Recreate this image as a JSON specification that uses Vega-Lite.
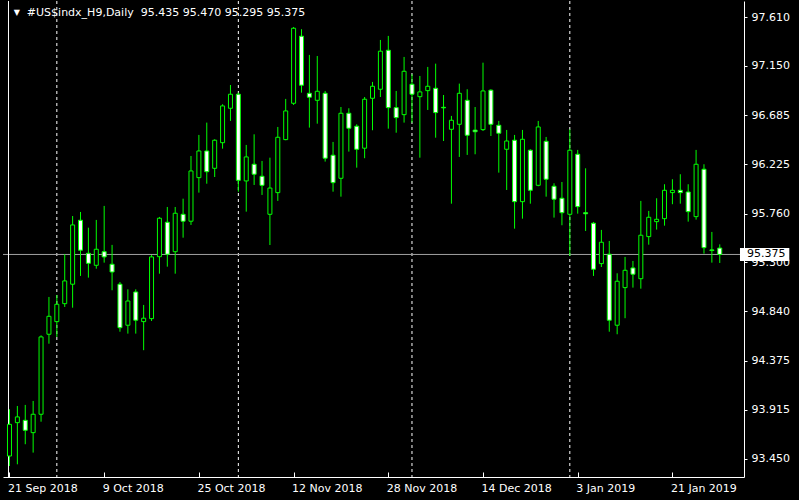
{
  "$schema": "https://vega.github.io/schema/vega-lite/v6.json",
  "width": 741,
  "height": 476,
  "padding": {"left": 2, "top": 0, "right": 9, "bottom": 7},
  "autosize": {"type": "pad"},
  "background": "black",
  "config": {"view": {"stroke": null}, "font": "DejaVu Sans", "text": {"font": "DejaVu Sans"}},
  "data": {"values": [{"note": "annotation row"}]},
  "datasets": {
    "candles": [
      {"i":0,"date":"2018-09-21","o":93.478,"h":93.918,"l":93.384,"c":93.776},
      {"i":1,"date":"2018-09-24","o":93.792,"h":93.949,"l":93.400,"c":93.846},
      {"i":2,"date":"2018-09-25","o":93.814,"h":93.959,"l":93.589,"c":93.720},
      {"i":3,"date":"2018-09-26","o":93.698,"h":93.996,"l":93.510,"c":93.871},
      {"i":4,"date":"2018-09-27","o":93.871,"h":94.614,"l":93.801,"c":94.599},
      {"i":5,"date":"2018-09-28","o":94.624,"h":94.975,"l":94.535,"c":94.793},
      {"i":6,"date":"2018-10-01","o":94.743,"h":94.994,"l":94.599,"c":94.906},
      {"i":7,"date":"2018-10-02","o":94.912,"h":95.377,"l":94.881,"c":95.126},
      {"i":8,"date":"2018-10-03","o":95.095,"h":95.737,"l":94.874,"c":95.653},
      {"i":9,"date":"2018-10-04","o":95.697,"h":95.775,"l":95.173,"c":95.415},
      {"i":10,"date":"2018-10-05","o":95.386,"h":95.627,"l":95.157,"c":95.292},
      {"i":11,"date":"2018-10-08","o":95.273,"h":95.700,"l":95.241,"c":95.424},
      {"i":12,"date":"2018-10-09","o":95.401,"h":95.832,"l":95.298,"c":95.352},
      {"i":13,"date":"2018-10-10","o":95.283,"h":95.465,"l":95.038,"c":95.210},
      {"i":14,"date":"2018-10-11","o":95.095,"h":95.116,"l":94.648,"c":94.686},
      {"i":15,"date":"2018-10-12","o":94.709,"h":95.047,"l":94.630,"c":94.937},
      {"i":16,"date":"2018-10-15","o":95.022,"h":95.047,"l":94.630,"c":94.756},
      {"i":17,"date":"2018-10-16","o":94.743,"h":94.900,"l":94.474,"c":94.775},
      {"i":18,"date":"2018-10-17","o":94.771,"h":95.370,"l":94.749,"c":95.352},
      {"i":19,"date":"2018-10-18","o":95.354,"h":95.728,"l":95.194,"c":95.716},
      {"i":20,"date":"2018-10-19","o":95.678,"h":95.822,"l":95.260,"c":95.377},
      {"i":21,"date":"2018-10-22","o":95.401,"h":95.822,"l":95.194,"c":95.763},
      {"i":22,"date":"2018-10-23","o":95.753,"h":95.900,"l":95.533,"c":95.688},
      {"i":23,"date":"2018-10-24","o":95.688,"h":96.302,"l":95.653,"c":96.161},
      {"i":24,"date":"2018-10-25","o":96.098,"h":96.500,"l":95.957,"c":96.349},
      {"i":25,"date":"2018-10-26","o":96.349,"h":96.616,"l":96.041,"c":96.154},
      {"i":26,"date":"2018-10-29","o":96.186,"h":96.459,"l":96.104,"c":96.450},
      {"i":27,"date":"2018-10-30","o":96.427,"h":96.789,"l":96.371,"c":96.773},
      {"i":28,"date":"2018-10-31","o":96.751,"h":96.970,"l":96.632,"c":96.883},
      {"i":29,"date":"2018-11-01","o":96.883,"h":96.898,"l":95.966,"c":96.073},
      {"i":30,"date":"2018-11-02","o":96.067,"h":96.406,"l":95.778,"c":96.293},
      {"i":31,"date":"2018-11-05","o":96.224,"h":96.506,"l":96.029,"c":96.130},
      {"i":32,"date":"2018-11-06","o":96.111,"h":96.255,"l":95.935,"c":96.026},
      {"i":33,"date":"2018-11-07","o":95.753,"h":96.286,"l":95.464,"c":96.000},
      {"i":34,"date":"2018-11-08","o":95.957,"h":96.575,"l":95.879,"c":96.478},
      {"i":35,"date":"2018-11-09","o":96.456,"h":96.839,"l":96.450,"c":96.726},
      {"i":36,"date":"2018-11-12","o":96.798,"h":97.516,"l":96.782,"c":97.504},
      {"i":37,"date":"2018-11-13","o":97.429,"h":97.495,"l":96.898,"c":96.968},
      {"i":38,"date":"2018-11-14","o":96.892,"h":97.253,"l":96.569,"c":96.855},
      {"i":39,"date":"2018-11-15","o":96.826,"h":97.243,"l":96.606,"c":96.911},
      {"i":40,"date":"2018-11-16","o":96.892,"h":96.914,"l":96.249,"c":96.281},
      {"i":41,"date":"2018-11-19","o":96.309,"h":96.434,"l":95.966,"c":96.051},
      {"i":42,"date":"2018-11-20","o":96.092,"h":96.763,"l":95.919,"c":96.704},
      {"i":43,"date":"2018-11-21","o":96.704,"h":96.751,"l":96.343,"c":96.563},
      {"i":44,"date":"2018-11-22","o":96.582,"h":96.600,"l":96.192,"c":96.365},
      {"i":45,"date":"2018-11-23","o":96.375,"h":96.857,"l":96.281,"c":96.836},
      {"i":46,"date":"2018-11-26","o":96.845,"h":96.999,"l":96.544,"c":96.958},
      {"i":47,"date":"2018-11-27","o":96.930,"h":97.394,"l":96.857,"c":97.288},
      {"i":48,"date":"2018-11-28","o":97.297,"h":97.432,"l":96.559,"c":96.757},
      {"i":49,"date":"2018-11-29","o":96.757,"h":96.914,"l":96.521,"c":96.663},
      {"i":50,"date":"2018-11-30","o":96.691,"h":97.234,"l":96.616,"c":97.099},
      {"i":51,"date":"2018-12-03","o":96.977,"h":97.071,"l":96.616,"c":96.883},
      {"i":52,"date":"2018-12-04","o":96.860,"h":97.055,"l":96.286,"c":96.905},
      {"i":53,"date":"2018-12-05","o":96.917,"h":97.140,"l":96.735,"c":96.958},
      {"i":54,"date":"2018-12-06","o":96.939,"h":97.171,"l":96.474,"c":96.710},
      {"i":55,"date":"2018-12-07","o":96.760,"h":96.876,"l":96.443,"c":96.755},
      {"i":56,"date":"2018-12-10","o":96.553,"h":96.679,"l":95.853,"c":96.638},
      {"i":57,"date":"2018-12-11","o":96.600,"h":96.983,"l":96.293,"c":96.892},
      {"i":58,"date":"2018-12-12","o":96.826,"h":96.930,"l":96.312,"c":96.497},
      {"i":59,"date":"2018-12-13","o":96.545,"h":96.763,"l":96.318,"c":96.530},
      {"i":60,"date":"2018-12-14","o":96.550,"h":97.180,"l":96.537,"c":96.914},
      {"i":61,"date":"2018-12-17","o":96.921,"h":96.930,"l":96.490,"c":96.600},
      {"i":62,"date":"2018-12-18","o":96.591,"h":96.632,"l":96.145,"c":96.516},
      {"i":63,"date":"2018-12-19","o":96.365,"h":96.547,"l":95.982,"c":96.443},
      {"i":64,"date":"2018-12-20","o":96.450,"h":96.500,"l":95.618,"c":95.872},
      {"i":65,"date":"2018-12-21","o":95.872,"h":96.547,"l":95.712,"c":96.459},
      {"i":66,"date":"2018-12-24","o":96.356,"h":96.365,"l":95.853,"c":95.979},
      {"i":67,"date":"2018-12-26","o":96.026,"h":96.632,"l":96.017,"c":96.575},
      {"i":68,"date":"2018-12-27","o":96.440,"h":96.481,"l":95.919,"c":96.083},
      {"i":69,"date":"2018-12-28","o":96.017,"h":96.045,"l":95.722,"c":95.895},
      {"i":70,"date":"2018-12-31","o":95.904,"h":96.057,"l":95.650,"c":95.768},
      {"i":71,"date":"2019-01-02","o":95.753,"h":96.553,"l":95.361,"c":96.356},
      {"i":72,"date":"2019-01-03","o":96.318,"h":96.359,"l":95.759,"c":95.825},
      {"i":73,"date":"2019-01-04","o":95.768,"h":96.186,"l":95.596,"c":95.758},
      {"i":74,"date":"2019-01-07","o":95.669,"h":95.681,"l":95.173,"c":95.236},
      {"i":75,"date":"2019-01-08","o":95.289,"h":95.606,"l":95.257,"c":95.490},
      {"i":76,"date":"2019-01-09","o":95.377,"h":95.502,"l":94.648,"c":94.756},
      {"i":77,"date":"2019-01-10","o":94.709,"h":95.198,"l":94.624,"c":95.123},
      {"i":78,"date":"2019-01-11","o":95.063,"h":95.352,"l":94.775,"c":95.226},
      {"i":79,"date":"2019-01-14","o":95.248,"h":95.314,"l":95.063,"c":95.189},
      {"i":80,"date":"2019-01-15","o":95.147,"h":95.879,"l":95.053,"c":95.556},
      {"i":81,"date":"2019-01-16","o":95.543,"h":95.785,"l":95.467,"c":95.725},
      {"i":82,"date":"2019-01-17","o":95.684,"h":95.904,"l":95.609,"c":95.706},
      {"i":83,"date":"2019-01-18","o":95.712,"h":96.036,"l":95.646,"c":95.979},
      {"i":84,"date":"2019-01-21","o":95.957,"h":96.083,"l":95.848,"c":95.979},
      {"i":85,"date":"2019-01-22","o":95.979,"h":96.130,"l":95.853,"c":95.957},
      {"i":86,"date":"2019-01-23","o":95.963,"h":96.036,"l":95.684,"c":95.778},
      {"i":87,"date":"2019-01-24","o":95.731,"h":96.359,"l":95.703,"c":96.224},
      {"i":88,"date":"2019-01-25","o":96.177,"h":96.224,"l":95.383,"c":95.439},
      {"i":89,"date":"2019-01-28","o":95.418,"h":95.587,"l":95.298,"c":95.412},
      {"i":90,"date":"2019-01-29","o":95.435,"h":95.470,"l":95.295,"c":95.375}
    ],
    "separators": [
      {"i":6,"date":"2018-10-01"},
      {"i":29,"date":"2018-11-01"},
      {"i":51,"date":"2018-12-03"},
      {"i":71,"date":"2019-01-02"}
    ]
  },
  "layer": [
    {
      "data": {"name": "candles"},
      "mark": {"type": "rule", "color": "#00ff00", "strokeWidth": 1, "clip": true, "opacity": 0},
      "encoding": {
        "x": {
          "field": "i", "type": "quantitative",
          "scale": {"domain": [-0.1875, 92.4375], "nice": false, "zero": false},
          "axis": {
            "values": [0, 12, 24, 36, 48, 60, 72, 84],
            "labelExpr": "['21 Sep 2018','9 Oct 2018','25 Oct 2018','12 Nov 2018','28 Nov 2018','14 Dec 2018','3 Jan 2019','21 Jan 2019'][round(datum.value/12)]",
            "labelAlign": "left",
            "labelBaseline": "top",
            "labelPadding": 10,
            "labelOffset": -2,
            "labelFlush": false,
            "labelOverlap": false,
            "labelColor": "#ffffff",
            "labelFont": "DejaVu Sans",
            "labelFontSize": 11,
            "domainColor": "#ffffff",
            "tickColor": "#ffffff",
            "tickSize": -5,
            "grid": false,
            "title": null
          }
        },
        "y": {
          "field": "l", "type": "quantitative",
          "scale": {"domain": [93.2805, 97.7606], "nice": false, "zero": false},
          "axis": {
            "orient": "right",
            "values": [93.45, 93.915, 94.375, 94.84, 95.3, 95.76, 96.225, 96.685, 97.15, 97.61],
            "format": ".3f",
            "labelBaseline": "middle",
            "labelPadding": 4,
            "labelFlush": false,
            "labelOverlap": false,
            "labelColor": "#ffffff",
            "labelFont": "DejaVu Sans",
            "labelFontSize": 11,
            "domainColor": "#ffffff",
            "tickColor": "#ffffff",
            "tickSize": 3,
            "grid": false,
            "title": null
          }
        },
        "y2": {"field": "h"}
      }
    },
    {
      "data": {"name": "separators"},
      "mark": {"type": "rule", "color": "#ffffff", "strokeDash": [3, 3], "strokeWidth": 1},
      "encoding": {
        "x": {"field": "i", "type": "quantitative", "scale": {"domain": [-0.1875, 92.4375], "nice": false, "zero": false}}
      }
    },
    {
      "mark": {"type": "rule", "color": "#a0a0a0", "strokeWidth": 1},
      "encoding": {
        "y": {"datum": 95.375, "type": "quantitative", "scale": {"domain": [93.2805, 97.7606], "nice": false, "zero": false}}
      }
    },
    {
      "mark": {"type": "rule", "color": "#ffffff", "strokeWidth": 1},
      "encoding": {
        "x": {"datum": -0.125, "type": "quantitative", "scale": {"domain": [-0.1875, 92.4375], "nice": false, "zero": false}}
      }
    },
    {
      "data": {"name": "candles"},
      "mark": {"type": "rule", "color": "#00ff00", "strokeWidth": 1, "clip": true},
      "encoding": {
        "x": {"field": "i", "type": "quantitative", "scale": {"domain": [-0.1875, 92.4375], "nice": false, "zero": false}},
        "y": {"field": "l", "type": "quantitative", "scale": {"domain": [93.2805, 97.7606], "nice": false, "zero": false}},
        "y2": {"field": "h"}
      }
    },
    {
      "data": {"name": "candles"},
      "mark": {"type": "bar", "size": 4, "stroke": "#00ff00", "strokeWidth": 1, "clip": true},
      "encoding": {
        "x": {"field": "i", "type": "quantitative", "scale": {"domain": [-0.1875, 92.4375], "nice": false, "zero": false}},
        "y": {"field": "o", "type": "quantitative", "scale": {"domain": [93.2805, 97.7606], "nice": false, "zero": false}},
        "y2": {"field": "c"},
        "fill": {"condition": {"test": "datum.c < datum.o", "value": "#ffffff"}, "value": "#000000"}
      }
    },
    {
      "mark": {"type": "rect", "fill": "#ffffff"},
      "encoding": {
        "x": {"datum": 92.5625, "type": "quantitative", "scale": {"domain": [-0.1875, 92.4375], "nice": false, "zero": false}},
        "x2": {"datum": 98.8125},
        "y": {"datum": 95.436, "type": "quantitative", "scale": {"domain": [93.2805, 97.7606], "nice": false, "zero": false}},
        "y2": {"datum": 95.313}
      }
    },
    {
      "mark": {"type": "text", "align": "left", "baseline": "middle", "font": "DejaVu Sans", "fontSize": 11, "color": "#000000"},
      "encoding": {
        "x": {"datum": 93.4375, "type": "quantitative", "scale": {"domain": [-0.1875, 92.4375], "nice": false, "zero": false}},
        "y": {"datum": 95.375, "type": "quantitative", "scale": {"domain": [93.2805, 97.7606], "nice": false, "zero": false}},
        "text": {"value": "95.375"}
      }
    },
    {
      "mark": {"type": "text", "align": "center", "baseline": "middle", "font": "DejaVu Sans", "fontSize": 8, "color": "#ffffff"},
      "encoding": {
        "x": {"datum": 0.9375, "type": "quantitative", "scale": {"domain": [-0.1875, 92.4375], "nice": false, "zero": false}},
        "y": {"datum": 97.643, "type": "quantitative", "scale": {"domain": [93.2805, 97.7606], "nice": false, "zero": false}},
        "text": {"value": "▼"}
      }
    },
    {
      "mark": {"type": "text", "align": "left", "baseline": "middle", "font": "DejaVu Sans", "fontSize": 11, "color": "#ffffff"},
      "encoding": {
        "x": {"datum": 2.2, "type": "quantitative", "scale": {"domain": [-0.1875, 92.4375], "nice": false, "zero": false}},
        "y": {"datum": 97.648, "type": "quantitative", "scale": {"domain": [93.2805, 97.7606], "nice": false, "zero": false}},
        "text": {"value": "#US$indx_H9,Daily\u00a0 95.435 95.470 95.295 95.375"}
      }
    }
  ]
}
